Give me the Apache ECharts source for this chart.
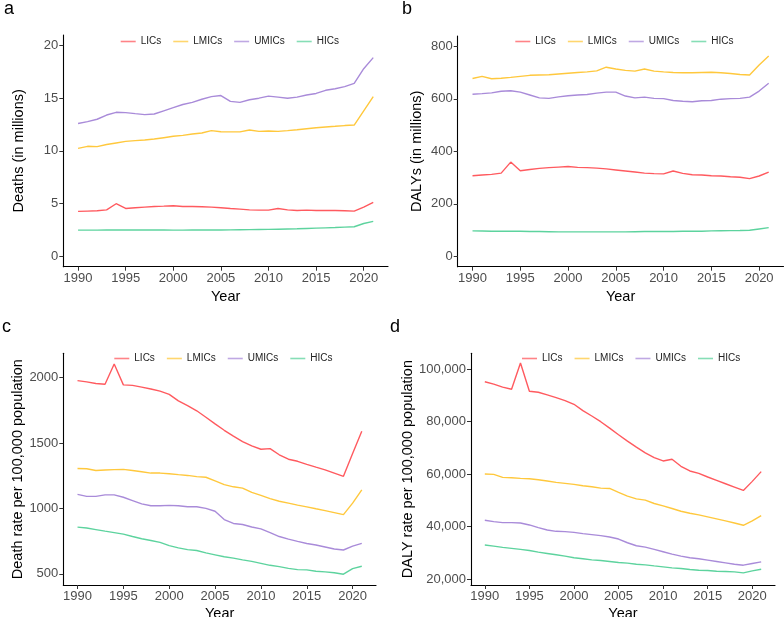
<!DOCTYPE html>
<html>
<head>
<meta charset="utf-8">
<script src="https://cdn.jsdelivr.net/npm/echarts@6/dist/echarts.min.js"></script>
<style>html,body{margin:0;padding:0;background:#fff;overflow:hidden;}#c{width:784px;height:617px;}</style>
</head>
<body>
<div id="c"></div>
<script>
const years = [1990,1991,1992,1993,1994,1995,1996,1997,1998,1999,2000,2001,2002,2003,2004,2005,2006,2007,2008,2009,2010,2011,2012,2013,2014,2015,2016,2017,2018,2019,2020,2021];
const groups = ['LICs','LMICs','UMICs','HICs'];
const xTicks = [1990,1995,2000,2005,2010,2015,2020];

// Panel a: Deaths (in millions)
const deathsLIC  = [4.25,4.28,4.31,4.4,4.98,4.53,4.6,4.66,4.72,4.75,4.79,4.72,4.72,4.69,4.66,4.6,4.53,4.47,4.4,4.37,4.37,4.53,4.4,4.34,4.37,4.34,4.34,4.34,4.31,4.28,4.66,5.1];
const deathsLMIC = [10.24,10.43,10.4,10.6,10.75,10.9,10.97,11.03,11.12,11.25,11.38,11.47,11.6,11.7,11.92,11.82,11.8,11.8,11.98,11.85,11.88,11.85,11.92,12.0,12.1,12.2,12.27,12.33,12.4,12.45,13.8,15.15];
const deathsUMIC = [12.6,12.77,13.0,13.4,13.66,13.63,13.53,13.44,13.5,13.8,14.1,14.4,14.6,14.9,15.15,15.25,14.7,14.6,14.85,15.0,15.2,15.1,15.0,15.1,15.3,15.45,15.75,15.9,16.1,16.4,17.8,18.85];
const deathsHIC  = [2.47,2.47,2.47,2.48,2.49,2.5,2.49,2.48,2.48,2.48,2.47,2.47,2.48,2.48,2.49,2.49,2.5,2.51,2.52,2.53,2.54,2.56,2.58,2.6,2.63,2.66,2.69,2.72,2.76,2.79,3.1,3.3];
const yTicksA = [0,5,10,15,20];

// Panel b: DALYs (in millions)
const dalysLIC  = [307,310,312,317,359,326,331,335,338,340,342,339,338,336,333,329,325,321,317,315,314,325,316,311,310,307,306,303,301,296,306,321];
const dalysLMIC = [678,686,677,679,682,686,690,691,692,695,698,701,703,707,721,714,709,706,714,706,703,701,700,700,701,702,700,697,693,691,729,764];
const dalysUMIC = [618,620,623,629,631,626,615,604,602,608,612,615,617,622,626,626,611,604,607,602,601,594,591,589,593,594,599,601,602,607,630,660];
const dalysHIC  = [96.5,96,95.5,95.5,95,95,94.5,94,93.5,93,93,93,93,93,93,93,93,93.5,94,94,94,94.5,95,95,95.5,96.5,97,97.5,98,99,104,109];
const yTicksB = [0,200,400,600,800];

// Panel c: Death rate per 100,000 population
const deathRateLIC  = [1977,1967,1955,1949,2104,1944,1940,1927,1913,1896,1872,1822,1786,1746,1697,1646,1597,1552,1511,1478,1452,1457,1410,1376,1360,1336,1315,1295,1270,1245,1420,1590];
const deathRateLMIC = [1305,1303,1290,1293,1296,1298,1290,1280,1270,1270,1265,1258,1252,1243,1238,1210,1182,1165,1155,1122,1100,1075,1055,1040,1025,1012,997,983,968,952,1040,1142];
const deathRateUMIC = [1107,1092,1092,1103,1103,1085,1060,1035,1020,1020,1023,1020,1013,1013,1000,978,915,885,877,858,843,815,785,765,748,732,720,705,690,682,712,733];
const deathRateHIC  = [857,850,838,826,815,803,785,768,755,740,715,698,685,678,660,645,630,620,607,595,580,565,555,542,532,530,520,515,508,497,540,558];
const yTicksC = [500,1000,1500,2000];

// Panel d: DALY rate per 100,000 population
const dalyRateLIC  = [95150,94250,93100,92330,102300,91560,91180,90160,89140,88000,86580,84150,82110,79940,77510,74950,72520,70220,68050,66260,64980,65620,62940,61150,60260,58850,57570,56290,55020,53740,57190,60900];
const dalyRateLMIC = [60000,59870,58720,58590,58340,58210,57830,57320,56810,56420,56040,55530,55140,54630,54500,52970,51560,50540,50030,48750,47860,46840,45810,45050,44410,43640,42880,42110,41340,40450,42110,44150];
const dalyRateUMIC = [42360,41850,41470,41470,41340,40580,39550,38660,38150,38020,37760,37250,36870,36490,35970,35210,33800,32650,32140,31250,30350,29460,28690,28050,27670,27160,26650,26130,25620,25240,25880,26520];
const dalyRateHIC  = [32910,32520,32010,31630,31250,30860,30220,29710,29200,28690,28050,27670,27280,27030,26650,26260,26010,25620,25370,24980,24600,24220,23960,23580,23320,23190,22940,22810,22680,22300,23070,23710];
const yTicksD = [20000,40000,60000,80000,100000];

const colors = ['#FF5A5F','#FFC83D','#A98BD9','#5DD39E'];
const FONT = 'Liberation Sans, Arial, sans-serif';

const panels = [
  {letter:'a', lx:4, ly:9, grid:{left:63.3, top:35, width:324.7, height:231.7}, ymin:-1, ymax:21, ticks:yTicksA,
   name:'Deaths (in millions)', nameGap:37, xGap:22.5, legend:{left:120.7, top:36.5}, data:[deathsLIC,deathsLMIC,deathsUMIC,deathsHIC], fmt:v=>String(v)},
  {letter:'b', lx:402, ly:9, grid:{left:457.7, top:36, width:325.8, height:230.7}, ymin:-40, ymax:840, ticks:yTicksB,
   name:'DALYs (in millions)', nameGap:33, xGap:22.5, legend:{left:515.3, top:36.5}, data:[dalysLIC,dalysLMIC,dalysUMIC,dalysHIC], fmt:v=>String(v)},
  {letter:'c', lx:2, ly:327, grid:{left:63.3, top:353.3, width:312.7, height:231.7}, ymin:414.5, ymax:2185.5, ticks:yTicksC,
   name:'Death rate per 100,000 population', nameGap:38, xGap:21, legend:{left:114.3, top:353.5}, data:[deathRateLIC,deathRateLMIC,deathRateUMIC,deathRateHIC], fmt:v=>String(v)},
  {letter:'d', lx:390, ly:327, grid:{left:471, top:353.3, width:304, height:231.7}, ymin:17685, ymax:106015, ticks:yTicksD,
   name:'DALY rate per 100,000 population', nameGap:55, xGap:21, legend:{left:522, top:353.5}, data:[dalyRateLIC,dalyRateLMIC,dalyRateUMIC,dalyRateHIC], fmt:v=>v.toLocaleString('en-US')}
];

const option = {animation:false, backgroundColor:'#fff', grid:[], xAxis:[], yAxis:[], series:[], legend:[], graphic:[]};
panels.forEach((p,i)=>{
  option.grid.push(Object.assign({containLabel:false, outerBoundsMode:'none'}, p.grid));
  option.xAxis.push({
    type:'value', gridIndex:i, min:1988.45, max:2022.55,
    name:'Year', nameLocation:'middle', nameGap:p.xGap,
    nameTextStyle:{fontFamily:FONT, fontSize:14.5, color:'#000'},
    axisLine:{show:true, onZero:false, lineStyle:{color:'#000', width:1.1}},
    axisTick:{show:true, length:4, lineStyle:{color:'#333'}, customValues:xTicks},
    axisLabel:{fontFamily:FONT, fontSize:13, color:'#4d4d4d', margin:5, customValues:xTicks, formatter:v=>String(v)},
    splitLine:{show:false}
  });
  option.yAxis.push({
    type:'value', gridIndex:i, min:p.ymin, max:p.ymax,
    name:p.name, nameLocation:'middle', nameGap:p.nameGap, nameRotate:90,
    nameTextStyle:{fontFamily:FONT, fontSize:14.5, color:'#000'},
    axisLine:{show:true, onZero:false, lineStyle:{color:'#000', width:1.1}},
    axisTick:{show:true, length:4, lineStyle:{color:'#333'}, customValues:p.ticks},
    axisLabel:{fontFamily:FONT, fontSize:13, color:'#4d4d4d', margin:5, customValues:p.ticks, formatter:p.fmt},
    splitLine:{show:false}
  });
  p.data.forEach((arr,k)=>{
    option.series.push({
      type:'line', name:groups[k], xAxisIndex:i, yAxisIndex:i,
      data:years.map((y,j)=>[y,arr[j]]), symbol:'none', showSymbol:false,
      lineStyle:{color:colors[k], width:1.4}, itemStyle:{color:colors[k]}, z:2
    });
  });
  option.legend.push({
    left:p.legend.left, top:p.legend.top, orient:'horizontal', icon:'rect', padding:0,
    itemWidth:15, itemHeight:1.6, itemGap:12, selectedMode:false,
    data:groups.map((g,k)=>({name:g, itemStyle:{color:colors[k], opacity:0.75}})),
    textStyle:{fontFamily:FONT, fontSize:10, color:'#222', padding:[0,0,0,0]}
  });
  option.graphic.push({type:'text', left:p.lx, top:p.ly-9, style:{text:p.letter, font:'18px '+FONT, fill:'#000'}});
});

const chart = echarts.init(document.getElementById('c'), null, {renderer:'canvas'});
chart.setOption(option);
</script>
</body>
</html>
